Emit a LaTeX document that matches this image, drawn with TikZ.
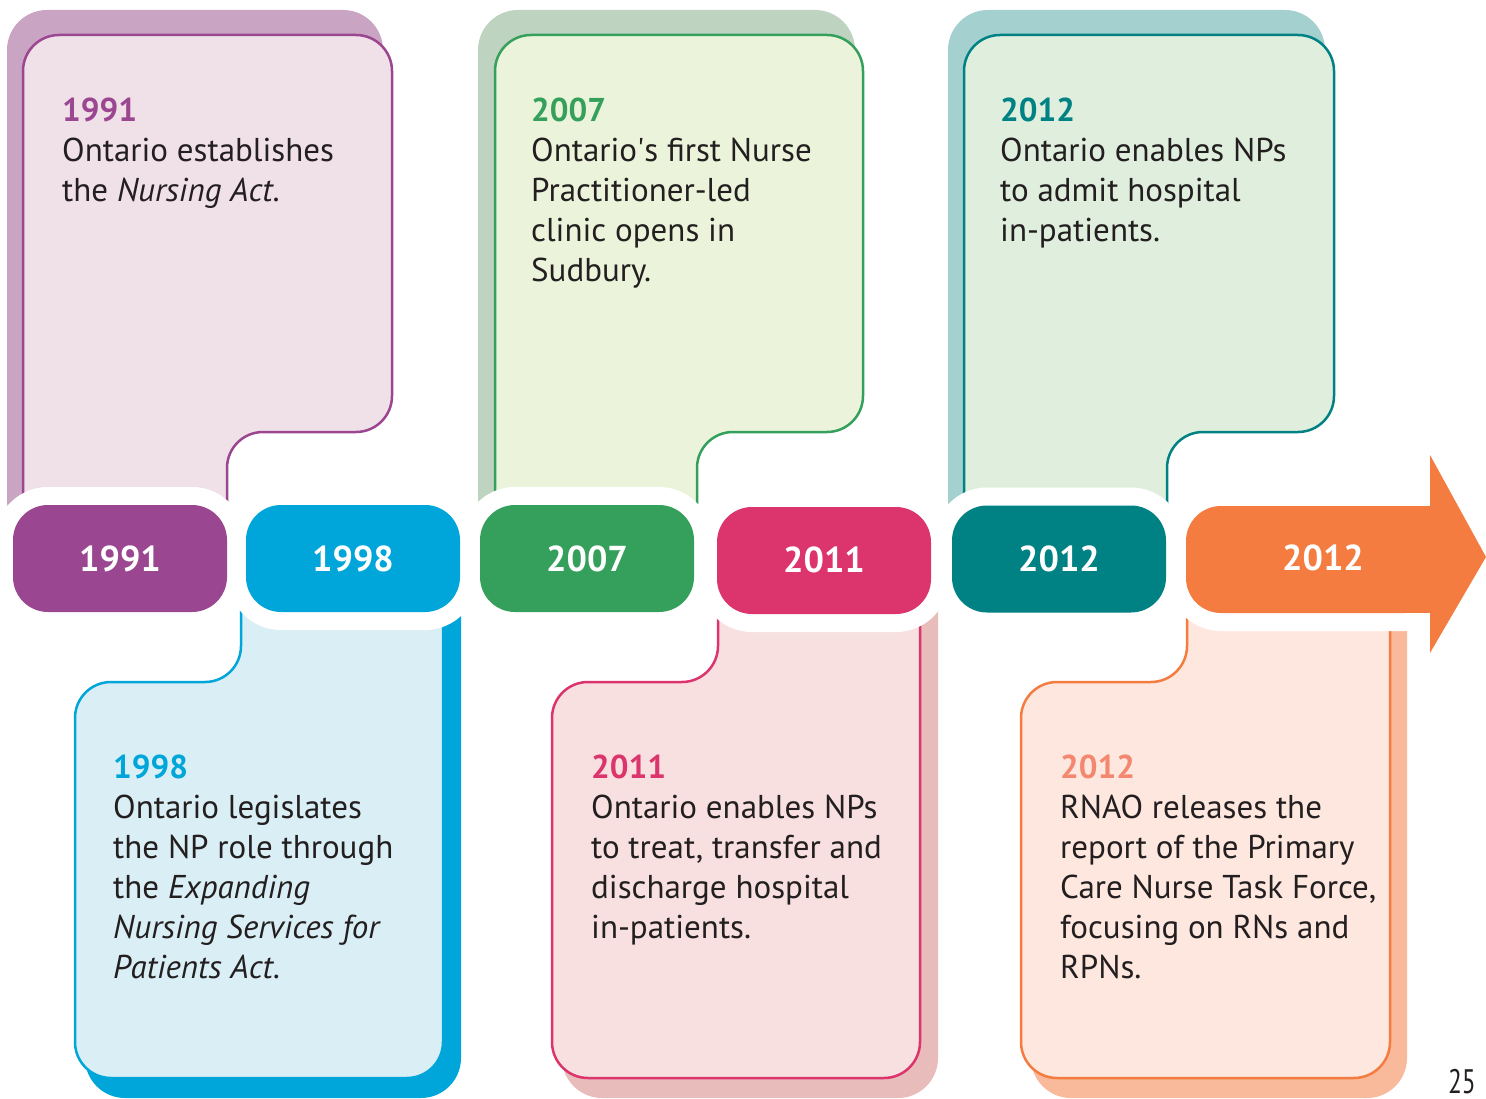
\documentclass[tikz,border=0pt]{standalone}
\usepackage{fontspec}
\setmainfont{PT Sans}
\definecolor{pux}{HTML}{9B4690}
\definecolor{blx}{HTML}{00A6DA}
\definecolor{grx}{HTML}{35A05C}
\definecolor{pix}{HTML}{DC346C}
\definecolor{tex}{HTML}{008183}
\definecolor{orx}{HTML}{F47C40}
\definecolor{puf}{HTML}{F0E0E8}
\definecolor{blf}{HTML}{DAEFF5}
\definecolor{grf}{HTML}{EBF4DA}
\definecolor{pif}{HTML}{F8E0E0}
\definecolor{tef}{HTML}{DFEEDD}
\definecolor{orf}{HTML}{FDE7DE}
\definecolor{pus}{HTML}{C9A5C3}
\definecolor{grs}{HTML}{BFD3C1}
\definecolor{pis}{HTML}{E8BCBB}
\definecolor{tes}{HTML}{A4D1D0}
\definecolor{ors}{HTML}{F9B99B}
\definecolor{ory}{HTML}{F4876F}
\definecolor{txx}{HTML}{231F20}
\tikzset{
    pill/.style={fill=#1,rounded corners=35,minimum width=214,minimum height=107,inner sep=0,
        text=white,font=\bfseries\fontsize{36}{40}\selectfont,preaction={draw=white,line width=36}},
    card/.style={draw=#1,line width=2.5,rounded corners=36},
    note/.style={anchor=base west,inner sep=0,align=left,text=txx,font=\fontsize{33}{40}\selectfont},
}

\begin{document}
\begin{tikzpicture}[x=1pt,y=-1pt]
    \useasboundingbox (0,0) rectangle (1486,1099);

    % upper cards
    \fill [pus,rounded corners=40] (7,540) -- (7,10) -- (383,10) -- (383,407) -- (211,407) -- (211,540) -- cycle;
    \filldraw [card=pux,fill=puf] (23,540) -- (23,35) -- (392,35) -- (392,432) -- (227,432) -- (227,540) -- cycle;
    \fill [grs,rounded corners=40] (478,540) -- (478,10) -- (855,10) -- (855,407) -- (681,407) -- (681,540) -- cycle;
    \filldraw [card=grx,fill=grf] (495,540) -- (495,35) -- (863,35) -- (863,432) -- (697,432) -- (697,540) -- cycle;
    \fill [tes,rounded corners=40] (948,540) -- (948,10) -- (1325,10) -- (1325,407) -- (1151,407) -- (1151,540) -- cycle;
    \filldraw [card=tex,fill=tef] (964,540) -- (964,35) -- (1334,35) -- (1334,432) -- (1167,432) -- (1167,540) -- cycle;

    % lower cards
    \fill [blx,rounded corners=40] (259,560) -- (259,702) -- (85,702) -- (85,1098) -- (461,1098) -- (461,560) -- cycle;
    \filldraw [card=blx,fill=blf] (241,560) -- (241,682) -- (75,682) -- (75,1078) -- (443,1078) -- (443,560) -- cycle;
    \fill [pis,rounded corners=40] (736,560) -- (736,702) -- (562,702) -- (562,1098) -- (938,1098) -- (938,560) -- cycle;
    \filldraw [card=pix,fill=pif] (718,560) -- (718,682) -- (552,682) -- (552,1078) -- (920,1078) -- (920,560) -- cycle;
    \fill [ors,rounded corners=40] (1205,560) -- (1205,702) -- (1031,702) -- (1031,1098) -- (1407,1098) -- (1407,560) -- cycle;
    \filldraw [card=orx,fill=orf] (1187,560) -- (1187,682) -- (1021,682) -- (1021,1078) -- (1390,1078) -- (1390,560) -- cycle;

    % time line
    \node [pill=pux] (y1991) at (120,558.5) {1991};
    \node [pill=blx] (y1998) at (353,558.5) {1998};
    \node [pill=grx] (y2007) at (587,558.5) {2007};
    \node [pill=pix] (y2011) at (824,560.5) {\raisebox{2pt}{2011}};
    \node [pill=tex] (y2012a) at (1059,559) {2012};
    \fill [orx,rounded corners=35,preaction={draw=white,line width=36}] (1186,506) rectangle (1440,613);
    \fill [orx] (1300,506) rectangle (1431,613);
    \fill [orx] (1430,455) -- (1486,557) -- (1430,653) -- cycle;
    \node [text=white,font=\bfseries\fontsize{36}{40}\selectfont] (y2012b) at (1323,558) {2012};

    % texts (anchored at the last baseline)
    \node [note] (n1991) at (62,202) {\textcolor{pux}{\bfseries 1991}\\Ontario establishes\\the \textit{Nursing Act}.};
    \node [note] (n2007) at (531,282) {\textcolor{grx}{\bfseries 2007}\\Ontario\textquotesingle s first Nurse\\Practitioner-led\\clinic opens in\\Sudbury.};
    \node [note] (n2012a) at (1000,242) {\textcolor{tex}{\bfseries 2012}\\Ontario enables NPs\\to admit hospital\\in-patients.};
    \node [note] (n1998) at (113,978) {\textcolor{blx}{\bfseries 1998}\\Ontario legislates\\the NP role through\\the \textit{Expanding}\\\textit{Nursing Services for}\\\textit{Patients Act}.};
    \node [note] (n2011) at (591,938) {\textcolor{pix}{\bfseries 2011}\\Ontario enables NPs\\to treat, transfer and\\discharge hospital\\in-patients.};
    \node [note] (n2012b) at (1060,978) {\textcolor{ory}{\bfseries 2012}\\RNAO releases the\\report of the Primary\\Care Nurse Task Force,\\focusing on RNs and\\RPNs.};

    \node [anchor=base east,inner sep=0,text=txx,font=\fontsize{34}{36}\selectfont] (page) at (1476,1093) {\scalebox{0.75}[1]{25}};
\end{tikzpicture}
\end{document}
